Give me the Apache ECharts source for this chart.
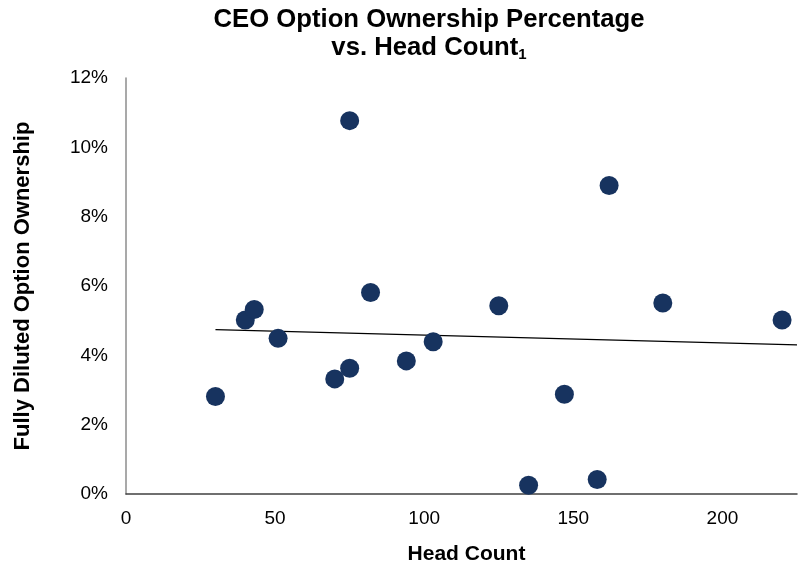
<!DOCTYPE html>
<html>
<head>
<meta charset="utf-8">
<script src="https://cdn.jsdelivr.net/npm/echarts@6/dist/echarts.min.js"></script>
<style>
  html, body { margin: 0; padding: 0; background: #fff; }
  #chart { width: 800px; height: 571px; }
</style>
</head>
<body>
<div id="chart"></div>
<script>
// head count (x) and fully diluted option ownership in % (y)
const headCount = [30, 40, 43, 51, 75, 70, 75, 82, 94, 103, 125, 162, 180, 220, 147, 135, 158];
const ownership = [2.81, 5.02, 5.32, 4.49, 10.77, 3.32, 3.63, 5.81, 3.84, 4.39, 5.43, 8.90, 5.51, 5.02, 2.88, 0.25, 0.42];

// linear trend line end points
const trendX = [30, 225];
const trendY = [4.74, 4.30];

const xTicks = [0, 50, 100, 150, 200];
const yTicks = [0, 2, 4, 6, 8, 10, 12];

const font = 'Liberation Sans, Arial, sans-serif';
const dotColor = '#17335f';

const chart = echarts.init(document.getElementById('chart'), null, { renderer: 'canvas' });

chart.setOption({
  backgroundColor: '#ffffff',
  animation: false,
  title: {
    text: '{t|CEO Option Ownership Percentage}\n{t|vs. Head Count}{s|1}',
    left: 429,
    top: 6,
    padding: 0,
    textAlign: 'center',
    textStyle: {
      fontFamily: font,
      rich: {
        t: { fontSize: 25.7, fontWeight: 'bold', color: '#000', lineHeight: 28, fontFamily: font },
        s: { fontSize: 15, fontWeight: 'bold', color: '#000', lineHeight: 12, verticalAlign: 'bottom', fontFamily: font }
      }
    }
  },
  grid: { left: 126, right: 0, top: 78, bottom: 77, containLabel: false },
  xAxis: {
    type: 'value',
    min: xTicks[0],
    max: 225,
    interval: 50,
    name: 'Head Count',
    nameLocation: 'middle',
    nameGap: 50,
    nameTextStyle: { fontFamily: font, fontSize: 21, fontWeight: 'bold', color: '#000', padding: [0, 0, 0, 10] },
    axisLine: { show: true, lineStyle: { color: '#404040', width: 1.5 } },
    axisTick: { show: false },
    splitLine: { show: false },
    axisLabel: {
      fontFamily: font, fontSize: 19, color: '#000', margin: 15,
      formatter: (v) => (xTicks.includes(v) ? String(v) : '')
    }
  },
  yAxis: {
    type: 'value',
    min: yTicks[0],
    max: yTicks[yTicks.length - 1],
    interval: 2,
    name: 'Fully Diluted Option Ownership',
    nameLocation: 'middle',
    nameGap: 92,
    nameRotate: 90,
    nameTextStyle: { fontFamily: font, fontSize: 22, fontWeight: 'bold', color: '#000' },
    axisLine: { show: true, lineStyle: { color: '#8c8c8c', width: 1.5 } },
    axisTick: { show: false },
    splitLine: { show: false },
    axisLabel: { fontFamily: font, fontSize: 19, color: '#000', margin: 18, formatter: '{value}%' }
  },
  series: [
    {
      type: 'line',
      name: 'Trend',
      data: trendX.map((x, i) => [x, trendY[i]]),
      showSymbol: false,
      lineStyle: { color: '#000', width: 1.2 },
      silent: true,
      z: 1
    },
    {
      type: 'scatter',
      name: 'CEO',
      data: headCount.map((x, i) => [x, ownership[i]]),
      symbol: 'circle',
      symbolSize: 19,
      itemStyle: { color: dotColor, opacity: 1 },
      z: 2
    }
  ]
});
</script>
</body>
</html>
